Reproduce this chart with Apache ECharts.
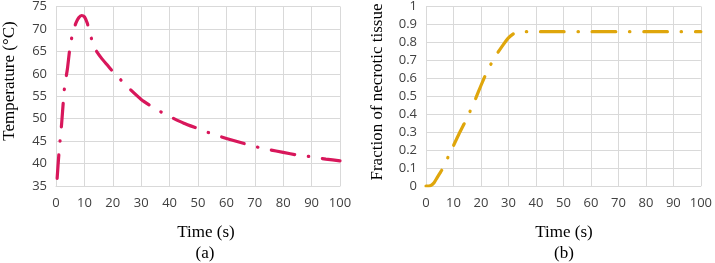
<!DOCTYPE html>
<html>
<head>
<meta charset="utf-8">
<script src="https://cdn.jsdelivr.net/npm/echarts@6/dist/echarts.min.js"></script>
<style>
  html, body { margin: 0; padding: 0; background: #fff; }
  #chart { width: 715px; height: 263px; }
</style>
</head>
<body>
<div id="chart"></div>
<script>
  // panel (a): temperature vs time
  let tempTime = [0.4, 1, 2, 3, 4, 5, 6, 7, 8, 9, 10, 11, 12, 13, 14, 16, 18, 20, 22, 25, 30, 35, 40, 45, 50, 55, 60, 65, 70, 75, 80, 85, 90, 95, 100];
  let tempValues = [36.7, 42, 49, 57, 61, 66.3, 69.3, 71.3, 72.5, 73, 72.7, 71.3, 69, 66.7, 65.3, 63.5, 62, 60.5, 59.2, 57.2, 54.3, 52.2, 50.5, 49, 47.8, 46.6, 45.6, 44.7, 43.8, 43.1, 42.5, 41.9, 41.5, 41, 40.6];

  // panel (b): fraction of necrotic tissue vs time
  let fracTime = [0, 1, 2, 3, 4, 5, 6, 8, 10, 12, 14, 16, 18, 20, 22, 24, 26, 28, 30, 32, 34, 40, 50, 60, 70, 80, 90, 100];
  let fracValues = [0, 0, 0.005, 0.02, 0.045, 0.07, 0.095, 0.16, 0.225, 0.29, 0.35, 0.415, 0.485, 0.56, 0.63, 0.69, 0.74, 0.785, 0.825, 0.85, 0.86, 0.86, 0.86, 0.86, 0.86, 0.86, 0.86, 0.86];

  let xTicks = [0, 10, 20, 30, 40, 50, 60, 70, 80, 90, 100];

  function zip(xs, ys) {
    return xs.map(function (x, i) { return [x, ys[i]]; });
  }

  let chart = echarts.init(document.getElementById('chart'), null, { renderer: 'canvas' });

  let gridColor = '#d9d9d9';
  let labelStyle = { color: '#404040', fontFamily: 'Open Sans', fontSize: 13 };
  let titleFont = 'Liberation Serif';

  function xAxisFor(idx) {
    return {
      type: 'value', gridIndex: idx, min: 0, max: 100, interval: 10,
      axisLine: { show: true, lineStyle: { color: gridColor } },
      axisTick: { show: false },
      splitLine: { show: true, lineStyle: { color: gridColor } },
      axisLabel: Object.assign({ margin: 11, formatter: function (v) { return xTicks.indexOf(v) >= 0 ? String(v) : ''; } }, labelStyle)
    };
  }

  // dash - dot pattern (long dash, gap, dot, gap)
  let dash = [23.6, 13.8, 0.4, 13.8];

  let option = {
    animation: false,
    backgroundColor: '#fff',
    grid: [
      { left: 56, top: 6, width: 284, height: 180 },
      { left: 426, top: 6, width: 277, height: 180 }
    ],
    xAxis: [xAxisFor(0), xAxisFor(1)],
    yAxis: [
      {
        type: 'value', gridIndex: 0, min: 35, max: 75, interval: 5,
        axisLine: { show: true, lineStyle: { color: gridColor } },
        axisTick: { show: false },
        splitLine: { show: true, lineStyle: { color: gridColor } },
        axisLabel: Object.assign({ margin: 9 }, labelStyle)
      },
      {
        type: 'value', gridIndex: 1, min: 0, max: 1, interval: 0.1,
        axisLine: { show: true, lineStyle: { color: gridColor } },
        axisTick: { show: false },
        splitLine: { show: true, lineStyle: { color: gridColor } },
        axisLabel: Object.assign({ margin: 9, formatter: function (v) { return String(Math.round(v * 10) / 10); } }, labelStyle)
      }
    ],
    series: [
      {
        type: 'line', xAxisIndex: 0, yAxisIndex: 0,
        data: zip(tempTime, tempValues),
        showSymbol: false, smooth: 0.2,
        lineStyle: { color: '#d8175b', width: 3.2, type: dash, cap: 'round', join: 'round' }
      },
      {
        type: 'line', xAxisIndex: 1, yAxisIndex: 1,
        data: zip(fracTime, fracValues),
        showSymbol: false, smooth: 0.2,
        lineStyle: { color: '#dfa60c', width: 3.2, type: dash, cap: 'round', join: 'round' }
      }
    ],
    graphic: [
      { type: 'text', x: 10, y: 81, rotation: Math.PI / 2,
        style: { text: 'Temperature (°C)', font: '17px "' + titleFont + '"', fill: '#000', align: 'center', verticalAlign: 'middle' } },
      { type: 'text', x: 378, y: 92, rotation: Math.PI / 2,
        style: { text: 'Fraction of necrotic tissue', font: '17px "' + titleFont + '"', fill: '#000', align: 'center', verticalAlign: 'middle' } },
      { type: 'text', x: 206, y: 233,
        style: { text: 'Time (s)', font: '17px "' + titleFont + '"', fill: '#000', align: 'center', verticalAlign: 'middle' } },
      { type: 'text', x: 205, y: 254,
        style: { text: '(a)', font: '17px "' + titleFont + '"', fill: '#000', align: 'center', verticalAlign: 'middle' } },
      { type: 'text', x: 564, y: 233,
        style: { text: 'Time (s)', font: '17px "' + titleFont + '"', fill: '#000', align: 'center', verticalAlign: 'middle' } },
      { type: 'text', x: 564, y: 254,
        style: { text: '(b)', font: '17px "' + titleFont + '"', fill: '#000', align: 'center', verticalAlign: 'middle' } }
    ]
  };

  chart.setOption(option);
</script>
</body>
</html>
